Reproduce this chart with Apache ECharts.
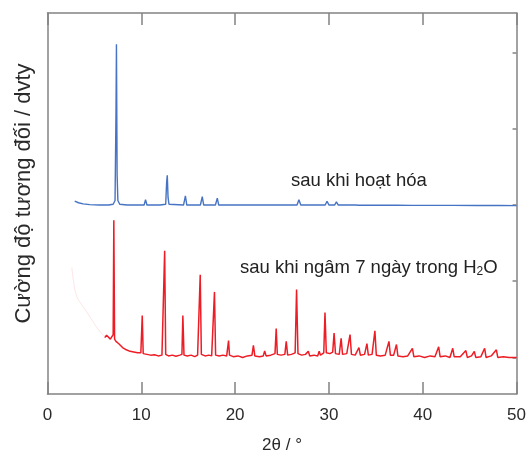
<!DOCTYPE html>
<html>
<head>
<meta charset="utf-8">
<script src="https://cdn.jsdelivr.net/npm/echarts@6/dist/echarts.min.js"></script>
<style>
  html, body { margin: 0; padding: 0; background: #fff; }
  #chart { width: 529px; height: 459px; }
</style>
</head>
<body>
<div id="chart"></div>
<script>
// XRD patterns, intensity in relative units (each pattern offset on its own baseline)
const xTicks = [0, 10, 20, 30, 40, 50];
const yTicks = [0, 1, 2, 3, 4];

// activated sample, baseline at 2
const activated = [
  [2.9, 2.05], [3.3, 2.03], [3.8, 2.015], [4.5, 2.005], [5.5, 2.0], [6.5, 2.0],
  [7.0, 2.01], [7.2, 2.06], [7.3, 3.2], [7.35, 4.11], [7.42, 2.4], [7.5, 2.06],
  [7.7, 2.01], [8.5, 2.0], [9.5, 2.0], [10.3, 2.0], [10.45, 2.07], [10.6, 2.0],
  [12.0, 2.0], [12.6, 2.01], [12.7, 2.3], [12.77, 2.39], [12.85, 2.1], [12.95, 2.01],
  [14.5, 2.0], [14.7, 2.12], [14.85, 2.0], [16.3, 2.0], [16.5, 2.11], [16.65, 2.0],
  [17.9, 2.0], [18.1, 2.09], [18.25, 2.0], [19.5, 2.0], [19.7, 2.025], [19.85, 2.0],
  [22.2, 2.0], [22.4, 2.012], [22.6, 2.0], [23.3, 2.0], [23.5, 2.02], [23.7, 2.0],
  [24.5, 2.0], [24.7, 2.025], [24.9, 2.0], [26.6, 2.0], [26.8, 2.07], [27.0, 2.0],
  [29.6, 2.0], [29.8, 2.05], [30.0, 2.0], [30.6, 2.0], [30.8, 2.04], [31.0, 2.0],
  [32.8, 2.0], [33.0, 2.012], [33.2, 1.998], [34.8, 1.998], [35.0, 2.012], [35.2, 1.998],
  [36.8, 1.997], [37.0, 2.01], [37.2, 1.997], [38.8, 1.996], [39.0, 2.01], [39.2, 1.996],
  [42.8, 1.995], [43.0, 2.008], [43.2, 1.995], [45.8, 1.994], [46.0, 2.008], [46.2, 1.994],
  [47.8, 1.993], [48.0, 2.006], [48.2, 1.993], [50, 1.992]
];

// low-angle region of the soaked sample, recorded faintly
const soakedLowAngle = [
  [2.6, 1.18], [2.8, 0.98], [3.1, 0.81], [3.6, 0.70], [4.17, 0.60], [4.9, 0.46],
  [5.58, 0.34], [6.0, 0.29], [6.29, 0.275]
];

// after soaking 7 days in water, baseline at 0
const soaked = [
  [6.1, 0.26], [6.3, 0.29], [6.5, 0.27], [6.7, 0.24], [6.9, 0.23], [7.0, 0.3],
  [7.07, 1.80], [7.15, 0.24], [7.3, 0.21], [7.6, 0.18], [8.0, 0.13], [8.4, 0.10],
  [8.8, 0.08], [9.2, 0.07], [9.6, 0.06], [9.95, 0.06], [10.1, 0.55], [10.2, 0.05],
  [10.6, 0.04], [11.0, 0.03], [11.4, 0.035], [11.8, 0.02], [12.2, 0.03], [12.38, 0.05],
  [12.49, 1.40], [12.6, 0.04], [12.9, 0.02], [13.3, 0.03], [13.7, 0.015], [14.1, 0.03],
  [14.33, 0.04], [14.43, 0.55], [14.55, 0.03], [14.9, 0.02], [15.3, 0.03], [15.7, 0.01],
  [16.0, 0.03], [16.18, 0.05], [16.28, 1.085], [16.4, 0.04], [16.8, 0.02], [17.2, 0.03],
  [17.5, 0.02], [17.7, 0.04], [17.8, 0.86], [17.92, 0.03], [18.3, 0.02], [18.7, 0.03],
  [19.1, 0.02], [19.22, 0.04], [19.3, 0.22], [19.4, 0.03], [19.8, 0.01], [20.3, 0.02],
  [20.8, 0.0], [21.3, 0.02], [21.8, 0.03], [21.95, 0.16], [22.1, 0.02], [22.6, 0.01],
  [23.0, 0.02], [23.15, 0.085], [23.3, 0.02], [23.8, 0.03], [24.25, 0.05], [24.38, 0.38],
  [24.5, 0.04], [24.9, 0.03], [25.3, 0.04], [25.45, 0.21], [25.6, 0.03], [26.0, 0.04],
  [26.4, 0.06], [26.55, 0.89], [26.7, 0.05], [27.1, 0.03], [27.5, 0.04], [27.8, 0.08],
  [27.95, 0.02], [28.4, 0.03], [28.8, 0.02], [28.96, 0.08], [29.1, 0.03], [29.45, 0.06],
  [29.58, 0.59], [29.72, 0.06], [30.1, 0.05], [30.4, 0.07], [30.55, 0.32], [30.7, 0.05],
  [31.1, 0.04], [31.3, 0.25], [31.45, 0.04], [31.9, 0.05], [32.1, 0.06], [32.25, 0.30],
  [32.4, 0.04], [32.8, 0.03], [33.2, 0.13], [33.35, 0.03], [33.8, 0.04], [34.05, 0.18],
  [34.2, 0.03], [34.6, 0.04], [34.9, 0.35], [35.05, 0.03], [35.5, 0.02], [36.0, 0.03],
  [36.4, 0.21], [36.55, 0.03], [36.9, 0.03], [37.2, 0.17], [37.35, 0.02], [37.9, 0.01],
  [38.4, 0.02], [38.9, 0.12], [39.05, 0.01], [39.6, 0.02], [40.2, 0.0], [40.8, 0.02],
  [41.3, 0.01], [41.7, 0.14], [41.85, 0.01], [42.4, 0.02], [42.9, 0.0], [43.2, 0.12],
  [43.35, 0.01], [44.0, 0.01], [44.6, 0.09], [44.75, 0.0], [45.2, 0.02], [45.5, 0.08],
  [45.65, 0.0], [46.2, 0.01], [46.6, 0.12], [46.75, 0.0], [47.3, 0.02], [47.85, 0.10],
  [48.0, 0.0], [48.6, 0.01], [49.2, 0.0], [50, 0.0]
];

const labelActivated = 'sau khi hoạt hóa';
const labelSoaked = 'sau khi ngâm 7 ngày trong H{s|2}O';
const xName = '2θ / °';
const yName = 'Cường độ tương đối / dvty';

const FONT = '"Liberation Sans", Arial, Helvetica, sans-serif';
const AXIS = '#838383';

const chart = echarts.init(document.getElementById('chart'), null, { renderer: 'canvas' });

const frameLine = { show: true, onZero: false, lineStyle: { color: AXIS, width: 1.5 } };

chart.setOption({
  animation: false,
  backgroundColor: '#fff',
  grid: { left: 47.5, right: 11, top: 13, bottom: 59 },
  xAxis: [
    {
      type: 'value', position: 'bottom', min: 0, max: 50, interval: 10,
      axisLine: frameLine,
      axisTick: { show: true, inside: true, length: 12, lineStyle: { color: AXIS, width: 1.5 } },
      axisLabel: {
        color: '#2a2a2a', fontSize: 17, fontFamily: FONT, margin: 13,
        customValues: xTicks
      },
      splitLine: { show: false },
      name: xName, nameLocation: 'middle', nameGap: 43,
      nameTextStyle: { color: '#2a2a2a', fontSize: 17, fontFamily: FONT }
    },
    {
      type: 'value', position: 'top', min: 0, max: 50, interval: 10,
      axisLine: frameLine,
      axisTick: { show: true, inside: true, length: 12, lineStyle: { color: AXIS, width: 1.5 } },
      axisLabel: { show: false },
      splitLine: { show: false }
    }
  ],
  yAxis: [
    {
      type: 'value', position: 'left', min: -0.48, max: 4.52,
      axisLine: frameLine,
      axisTick: { show: false },
      axisLabel: { show: false },
      splitLine: { show: false },
      name: yName, nameLocation: 'middle', nameGap: 13, nameRotate: 90,
      nameTextStyle: {
        color: '#2a2a2a', fontSize: 22, fontFamily: FONT,
        padding: [0, 0, 0, 20]
      }
    },
    {
      type: 'value', position: 'right', min: -0.48, max: 4.52,
      axisLine: frameLine,
      axisTick: {
        show: true, inside: true, length: 4, customValues: yTicks,
        lineStyle: { color: AXIS, width: 1.5 }
      },
      axisLabel: { show: false },
      splitLine: { show: false }
    }
  ],
  series: [
    {
      name: labelActivated, type: 'line', data: activated,
      showSymbol: false, symbol: 'none', smooth: false,
      lineStyle: { color: '#4673c4', width: 1.4 }
    },
    {
      name: 'low angle', type: 'line', data: soakedLowAngle,
      showSymbol: false, symbol: 'none', smooth: true,
      lineStyle: { color: '#f05a5a', width: 1, opacity: 0.15 }
    },
    {
      name: 'soaked', type: 'line', data: soaked,
      showSymbol: false, symbol: 'none', smooth: false,
      lineStyle: { color: '#ee1c25', width: 1.5 }
    }
  ],
  graphic: [
    {
      type: 'text', left: 291, top: 171,
      style: { text: labelActivated, font: '18.5px ' + FONT, fill: '#222' }
    },
    {
      type: 'text', left: 240, top: 258,
      style: {
        text: labelSoaked, font: '18.5px ' + FONT, fill: '#222',
        rich: { s: { fontSize: 12, fontFamily: FONT, fill: '#222', padding: [9, 0, 0, 0] } }
      }
    }
  ]
});
</script>
</body>
</html>
